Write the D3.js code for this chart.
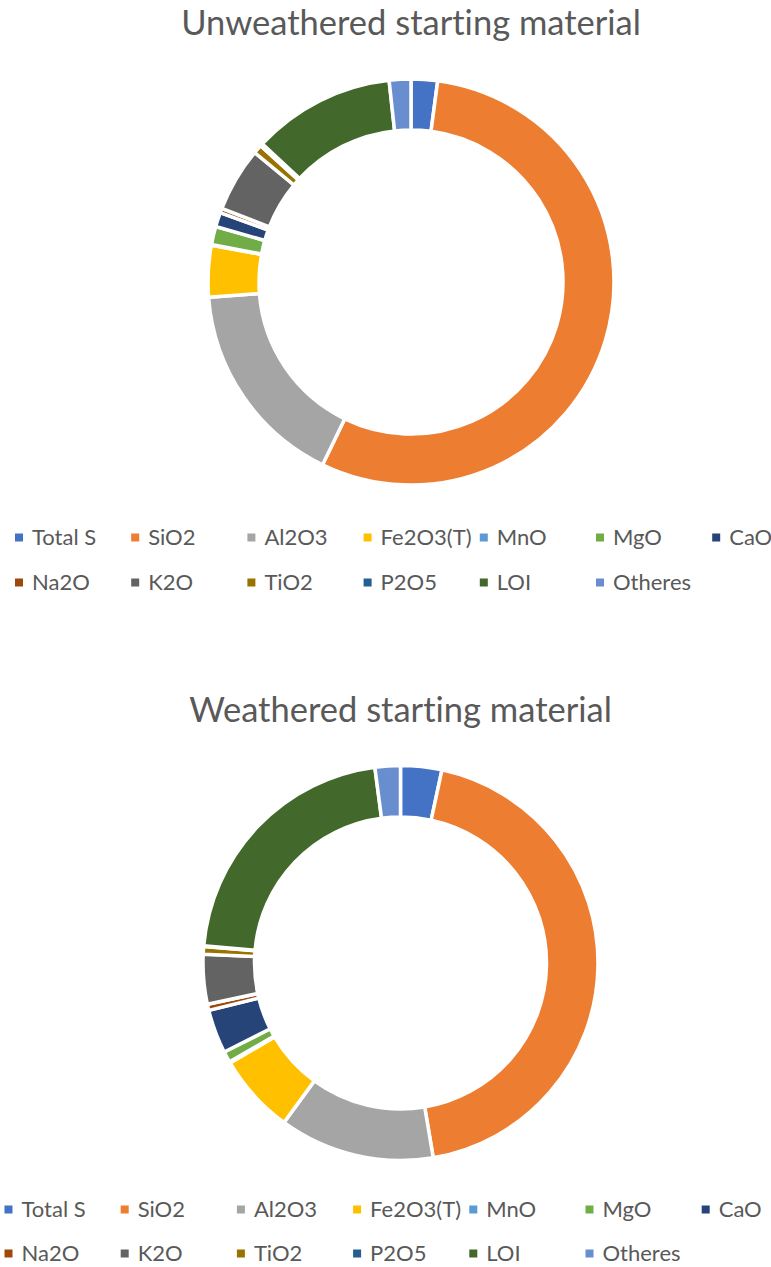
<!DOCTYPE html>
<html>
<head>
<meta charset="utf-8">
<script src="https://cdn.jsdelivr.net/npm/d3@7"></script>
<style>
  body { margin: 0; background: #fff; }
  svg { display: block; }
  text { font-family: Lato, "Open Sans", sans-serif; fill: #595959;
         font-variant-ligatures: none; font-feature-settings: "liga" 0, "clig" 0; }
</style>
</head>
<body>
<svg id="chart" width="771" height="1267"></svg>
<script>
// Oxide composition (wt %) of the two starting materials
const categories = ["Total S", "SiO2", "Al2O3", "Fe2O3(T)", "MnO", "MgO", "CaO",
                    "Na2O", "K2O", "TiO2", "P2O5", "LOI", "Otheres"];
const unweathered = [2.1, 55.0, 16.6, 4.1, 0.05, 1.45, 1.15, 0.35, 5.1, 0.7, 0.2, 11.35, 1.72];
const weathered   = [3.36, 43.9, 12.67, 6.5, 0.1, 0.9, 3.58, 0.5, 4.06, 0.62, 0.05, 21.5, 2.07];
const palette = ["#4472C4", "#ED7D31", "#A5A5A5", "#FFC000", "#5B9BD5", "#70AD47", "#264478",
                 "#9E480E", "#636363", "#997300", "#255E91", "#43682B", "#698ED0"];
const titles = ["Unweathered starting material", "Weathered starting material"];

// Panel geometry
const panels = [
  { title: titles[0], values: unweathered, cx: 411, cy: 282, outer: 203, inner: 152,
    titleY: 35, legendX: 32, legendY: [545, 590] },
  { title: titles[1], values: weathered, cx: 400.5, cy: 963, outer: 197.5, inner: 146,
    titleY: 721.7, legendX: 21.5, legendY: [1217, 1261] }
];

const svg = d3.select("#chart");
const color = d3.scaleOrdinal().domain(categories).range(palette);
const pie = d3.pie().sort(null).value(d => d.value);
const perRow = 7, colStep = 116.2, keySize = 8;

panels.forEach(p => {
  const data = categories.map((c, i) => ({ name: c, value: p.values[i] }));
  const arc = d3.arc().innerRadius(p.inner).outerRadius(p.outer);
  const g = svg.append("g");

  g.append("text")
    .attr("x", p.cx).attr("y", p.titleY)
    .attr("text-anchor", "middle")
    .style("font-size", "34.5px")
    .text(p.title);

  g.append("g")
    .attr("transform", `translate(${p.cx},${p.cy})`)
    .selectAll("path")
    .data(pie(data))
    .join("path")
    .attr("d", arc)
    .attr("fill", d => color(d.data.name))
    .attr("stroke", "#fff")
    .attr("stroke-width", 3.5)
    .attr("stroke-linejoin", "miter");

  const legend = g.append("g");
  const items = legend.selectAll("g")
    .data(categories)
    .join("g")
    .attr("transform", (d, i) => {
      const col = i % perRow, row = Math.floor(i / perRow);
      return `translate(${p.legendX + col * colStep},${p.legendY[row]})`;
    });
  items.append("rect")
    .attr("x", -13 - keySize / 2).attr("y", -7.5 - keySize / 2)
    .attr("width", keySize).attr("height", keySize)
    .attr("fill", d => color(d));
  items.append("text")
    .attr("x", 0).attr("y", 0)
    .style("font-size", "22px")
    .text(d => d);
});
</script>
</body>
</html>
